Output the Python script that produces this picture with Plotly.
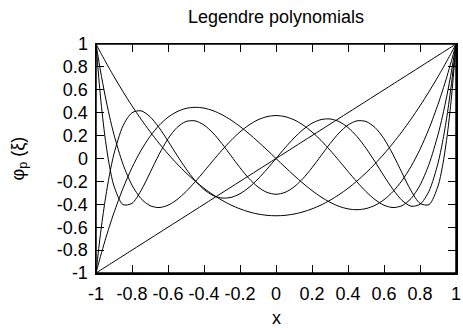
import plotly.graph_objects as go

# Sample positions (shared by every curve)
x_vals = [-1, -0.975, -0.95, -0.925, -0.9, -0.85, -0.8, -0.75, -0.7, -0.65, -0.6, -0.55, -0.5,
          -0.45, -0.4, -0.35, -0.3, -0.25, -0.2, -0.15, -0.1, -0.05, 0,
          0.05, 0.1, 0.15, 0.2, 0.25, 0.3, 0.35, 0.4, 0.45, 0.5, 0.55, 0.6, 0.65, 0.7,
          0.75, 0.8, 0.85, 0.9, 0.925, 0.95, 0.975, 1]

p1 = [-1, -0.975, -0.95, -0.925, -0.9, -0.85, -0.8, -0.75, -0.7, -0.65, -0.6, -0.55, -0.5,
      -0.45, -0.4, -0.35, -0.3, -0.25, -0.2, -0.15, -0.1, -0.05, 0,
      0.05, 0.1, 0.15, 0.2, 0.25, 0.3, 0.35, 0.4, 0.45, 0.5, 0.55, 0.6, 0.65, 0.7,
      0.75, 0.8, 0.85, 0.9, 0.925, 0.95, 0.975, 1]

p2 = [1, 0.9259, 0.8538, 0.7834, 0.715, 0.5838, 0.46, 0.3438, 0.235, 0.1338, 0.04, -0.0463, -0.125,
      -0.1963, -0.26, -0.3163, -0.365, -0.4063, -0.44, -0.4663, -0.485, -0.4963, -0.5,
      -0.4963, -0.485, -0.4663, -0.44, -0.4063, -0.365, -0.3163, -0.26, -0.1963, -0.125,
      -0.0463, 0.04, 0.1338, 0.235, 0.3438, 0.46, 0.5838, 0.715, 0.7834, 0.8538, 0.9259, 1]

p3 = [-1, -0.8546, -0.7184, -0.5911, -0.4725, -0.2603, -0.08, 0.0703, 0.1925, 0.2884, 0.36, 0.4091, 0.4375,
      0.4472, 0.44, 0.4178, 0.3825, 0.3359, 0.28, 0.2166, 0.1475, 0.0747, 0,
      -0.0747, -0.1475, -0.2166, -0.28, -0.3359, -0.3825, -0.4178, -0.44, -0.4472, -0.4375,
      -0.4091, -0.36, -0.2884, -0.1925, -0.0703, 0.08, 0.2603, 0.4725, 0.5911, 0.7184, 0.8546, 1]

p4 = [1, 0.7638, 0.5541, 0.3693, 0.2079, -0.0506, -0.233, -0.3501, -0.4121, -0.4284, -0.408, -0.359, -0.2891,
      -0.205, -0.113, -0.0187, 0.0729, 0.1577, 0.232, 0.2928, 0.3379, 0.3657, 0.375,
      0.3657, 0.3379, 0.2928, 0.232, 0.1577, 0.0729, -0.0187, -0.113, -0.205, -0.2891,
      -0.359, -0.408, -0.4284, -0.4121, -0.3501, -0.233, -0.0506, 0.2079, 0.3693, 0.5541, 0.7638, 1]

p5 = [-1, -0.6567, -0.3727, -0.142, 0.0411, 0.2857, 0.3995, 0.4164, 0.3652, 0.2705, 0.1526, 0.0282, -0.0898,
      -0.1917, -0.2706, -0.3225, -0.3454, -0.3397, -0.3075, -0.2523, -0.1788, -0.0927, 0,
      0.0927, 0.1788, 0.2523, 0.3075, 0.3397, 0.3454, 0.3225, 0.2706, 0.1917, 0.0898,
      -0.0282, -0.1526, -0.2705, -0.3652, -0.4164, -0.3995, -0.2857, -0.0411, 0.142, 0.3727, 0.6567, 1]

p6 = [1, 0.5374, 0.1875, -0.0669, -0.2412, -0.403, -0.3918, -0.2808, -0.1253, 0.0347, 0.1721, 0.2708, 0.3232,
      0.329, 0.2926, 0.2225, 0.1292, 0.0243, -0.0806, -0.1746, -0.2488, -0.2962, -0.3125,
      -0.2962, -0.2488, -0.1746, -0.0806, 0.0243, 0.1292, 0.2225, 0.2926, 0.329, 0.3232,
      0.2708, 0.1721, 0.0347, -0.1253, -0.2808, -0.3918, -0.403, -0.2412, -0.0669, 0.1875, 0.5374, 1]

series = [p1, p2, p3, p4, p5, p6]

tick_vals = [-1, -0.8, -0.6, -0.4, -0.2, 0, 0.2, 0.4, 0.6, 0.8, 1]
tick_text = ["-1", "-0.8", "-0.6", "-0.4", "-0.2", "0", "0.2", "0.4", "0.6", "0.8", "1"]

title_text = "Legendre polynomials"
x_title = "x"
y_title = "φ<sub>p</sub> (ξ)"

FONT = "Liberation Sans, Arial, sans-serif"
FS = 18

fig = go.Figure()
for s in series:
    fig.add_trace(go.Scatter(x=x_vals, y=s, mode="lines",
                             line=dict(color="black", width=1, shape="spline", smoothing=0.8),
                             showlegend=False, hoverinfo="skip", cliponaxis=True))

axis_common = dict(
    range=[-1, 1], tickvals=tick_vals, ticktext=tick_text,
    ticks="inside", ticklen=8, tickwidth=1, tickcolor="black",
    showline=True, linecolor="black", linewidth=1.5, mirror="allticks",
    showgrid=False, zeroline=False, automargin=False,
    tickfont=dict(family=FONT, size=FS, color="black"),
)

fig.update_layout(
    width=463, height=328,
    margin=dict(l=96, r=7, t=44, b=55, autoexpand=False),
    paper_bgcolor="white", plot_bgcolor="white",
    font=dict(family=FONT, size=FS, color="black"),
    title=dict(text=title_text, x=0.5, xref="paper", xanchor="center",
               y=1 - 17 / 328, yref="container", yanchor="middle", automargin=False,
               font=dict(family=FONT, size=FS, color="black")),
    xaxis=dict(**axis_common, ticklabelstandoff=4),
    yaxis=dict(**axis_common, ticklabelstandoff=3),
    shapes=[dict(type="rect", xref="x domain", yref="y domain", x0=0, x1=1, y0=0, y1=1,
                 line=dict(color="black", width=1.5), layer="above")],
    annotations=[
        dict(text=x_title, xref="paper", yref="paper", x=0.5, y=-45 / 229, xanchor="center",
             yanchor="middle", showarrow=False, font=dict(family=FONT, size=FS, color="black")),
        dict(text=y_title, xref="paper", yref="paper", x=-77 / 360, y=0.5, xanchor="center",
             yanchor="middle", textangle=-90, showarrow=False,
             font=dict(family=FONT, size=FS, color="black")),
    ],
)

fig.write_html("out.html", config={"displayModeBar": False, "staticPlot": True},
               post_script="document.body.style.margin='0px';document.body.style.padding='0px';"
                           "document.body.style.overflow='hidden';")
